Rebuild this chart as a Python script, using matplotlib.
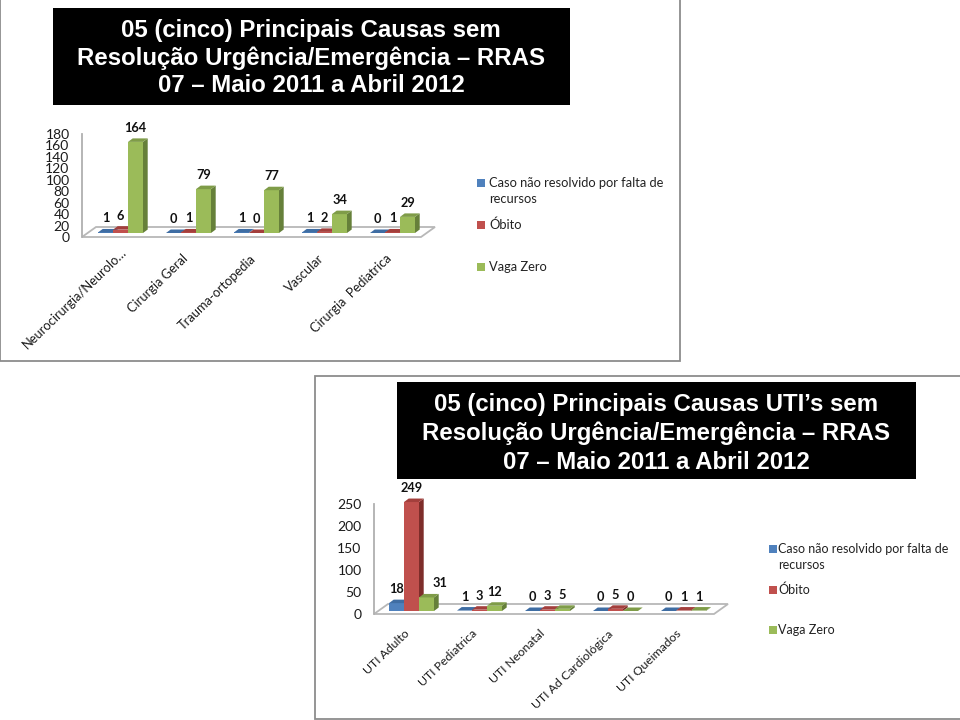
import matplotlib
matplotlib.use("Agg")
import matplotlib.pyplot as plt
from matplotlib.patches import Rectangle, Polygon

plt.rcParams['font.family'] = ['Lato', 'DejaVu Sans']

series_names = ["Caso não resolvido por falta de\nrecursos", "Óbito", "Vaga Zero"]
front_colors = ["#4F81BD", "#C0504D", "#9BBB59"]
side_colors = ["#2F5A8C", "#7E2D2A", "#66803A"]
top_colors = ["#3F6DA3", "#A33F3C", "#7F9C48"]

title_1 = ["05 (cinco) Principais Causas sem",
           "Resolução Urgência/Emergência – RRAS",
           "07 – Maio 2011 a Abril 2012"]
cats_1 = ["Neurocirurgia/Neurolo…", "Cirurgia Geral", "Trauma-ortopedia", "Vascular", "Cirurgia  Pediatrica"]
caso_1 = [1, 0, 1, 1, 0]
obito_1 = [6, 1, 0, 2, 1]
vaga_1 = [164, 79, 77, 34, 29]
ticks_1 = [0, 20, 40, 60, 80, 100, 120, 140, 160, 180]

title_2 = ["05 (cinco) Principais Causas UTI’s sem",
           "Resolução Urgência/Emergência – RRAS",
           "07 – Maio 2011 a Abril 2012"]
cats_2 = ["UTI Adulto", "UTI Pediatrica", "UTI Neonatal", "UTI Ad Cardiológica", "UTI Queimados"]
caso_2 = [18, 1, 0, 0, 0]
obito_2 = [249, 3, 3, 5, 1]
vaga_2 = [31, 12, 5, 0, 1]
ticks_2 = [0, 50, 100, 150, 200, 250]

fig = plt.figure(figsize=(9.6, 7.2), dpi=100, facecolor="white")

bg = fig.add_axes([0, 0, 1, 1], zorder=0)
bg.set_xlim(0, 960)
bg.set_ylim(720, 0)
bg.axis("off")


def px_axes(left, right, top, bottom, z):
    a = fig.add_axes([left / 960, 1 - bottom / 720, (right - left) / 960, (bottom - top) / 720], zorder=z)
    a.patch.set_alpha(0)
    return a


def panel(x0, y0, x1, y1, box, title, title_cx, title_ys, title_size):
    bg.add_patch(Rectangle((x0, y0), x1 - x0, y1 - y0, fc="white", ec="#8c8c8c", lw=1.3, clip_on=False))
    bg.add_patch(Rectangle((box[0], box[1]), box[2] - box[0], box[3] - box[1], fc="black", ec="none", zorder=3))
    for line, ty in zip(title, title_ys):
        bg.text(title_cx, ty, line, color="white", family="Liberation Sans", fontweight="bold",
                fontsize=title_size, ha="center", va="center", zorder=4)


def chart(series, cats, ticks, ymax, axis_x, axis_top, axis_bottom, base_y, bar_top, x_right, first_bar, cat_size, cat_off, first_off):
    # wall axis with the tick labels
    wall = px_axes(axis_x, x_right, axis_top, axis_bottom, 2)
    wall.set_ylim(0, ymax)
    wall.set_xticks([])
    wall.set_yticks(ticks)
    wall.tick_params(axis="y", length=0, pad=9, labelsize=10, labelcolor="#1a1a1a")
    for s in ["top", "right", "bottom"]:
        wall.spines[s].set_visible(False)
    wall.spines["left"].set_color("#b0b0b0")
    wall.spines["left"].set_linewidth(1.3)

    # floor
    depth_x, depth_y = 14, 10
    bg.add_patch(Polygon([(axis_x, axis_bottom), (x_right, axis_bottom),
                          (x_right + depth_x, axis_bottom - depth_y), (axis_x + depth_x, axis_bottom - depth_y)],
                         closed=True, fc="white", ec="#b8b8b8", lw=1.3, zorder=1))

    # bars, 68 px per category and 15 px per bar
    group = 68.0
    bw = 15.0 / group
    center = first_bar + 22.5
    ax = px_axes(axis_x, x_right, bar_top, base_y, 3)
    ax.set_xlim((axis_x - center) / group, (x_right - center) / group)
    ax.set_ylim(0, ymax)
    ax.axis("off")
    sx = 4.7 / group
    sy = 3.5 * ymax / (base_y - bar_top)
    for k, vals in enumerate(series):
        xs = [i + (k - 1) * bw for i in range(len(vals))]
        ax.bar(xs, vals, width=bw, color=front_colors[k], linewidth=0, clip_on=False, zorder=3 + k)
        for x, v in zip(xs, vals):
            r = x + bw / 2
            l = x - bw / 2
            ax.fill([r, r + sx, r + sx, r], [0, sy, v + sy, v], color=side_colors[k], lw=0, clip_on=False, zorder=3 + k)
            ax.fill([l, r, r + sx, l + sx], [v, v, v + sy, v + sy], color=top_colors[k], lw=0, clip_on=False, zorder=3 + k)
            dx = 13 if (v == 31) else 0
            ax.annotate(str(v), (x, v), xytext=(dx, 14), textcoords="offset pixels",
                        ha="center", va="center", fontsize=9.2, fontweight="bold", color="#111111",
                        annotation_clip=False, zorder=10)
    # category labels
    for i, c in enumerate(cats):
        off = first_off if i == 0 else cat_off
        ax.annotate(c, (i, 0), xytext=off, textcoords="offset pixels", rotation=44,
                    rotation_mode="anchor", ha="right", va="center", fontsize=cat_size, color="#1a1a1a",
                    annotation_clip=False)


def legend(sq_x, text_x, ys, size):
    for k, (name, y) in enumerate(zip(series_names, ys)):
        bg.add_patch(Rectangle((sq_x, y - 4), 8, 8, fc=front_colors[k], ec="none", zorder=2))
        lines = name.split("\n")
        for j, line in enumerate(lines):
            bg.text(text_x, y + j * 16, line, fontsize=size, color="#222222", va="center", ha="left", zorder=2)


panel(0, -1, 680, 361, (53, 8, 570, 105), title_1, 311, [30, 58, 86], 17.25)
panel(315, 376, 961, 718.5, (397, 382, 916, 479), title_2, 656, [404.5, 433.5, 462.5], 17.25)

chart([caso_1, obito_1, vaga_1], cats_1, ticks_1, 180, 82, 134, 237, 233, 133, 421, 98, 9.3, (-3, -24), (4, -17))
chart([caso_2, obito_2, vaga_2], cats_2, ticks_2, 250, 374, 504, 614, 611, 501.6, 714, 389, 8.8, (-4, -21), (-4, -21))

legend(477, 489, [183, 225, 267], 9.3)
legend(769, 778, [549, 590, 630], 9.0)

fig.savefig("out.png", dpi=100)
